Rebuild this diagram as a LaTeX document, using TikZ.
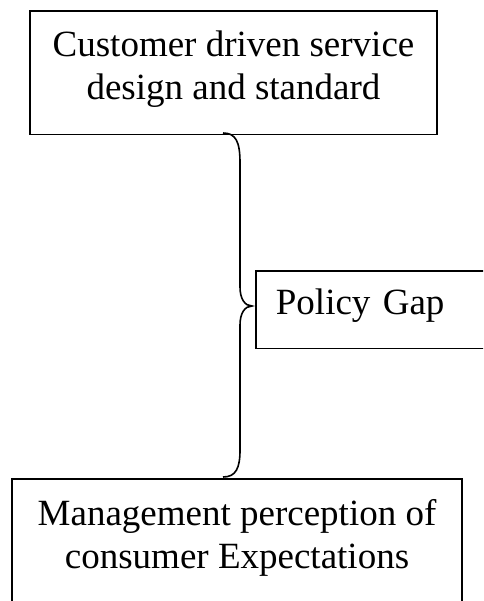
\documentclass[tikz,border=0pt]{standalone}
\usepackage{fontspec}
\setmainfont{Liberation Serif}
\tikzset{
  gapbox/.style={draw, line width=1.8pt, inner sep=0pt, font=\fontsize{37}{43}\selectfont},
  bracket/.style={line width=1.6pt}
}
\begin{document}
\begin{tikzpicture}[x=1pt,y=-1pt]
\useasboundingbox (0,0) rectangle (483,601);
\clip (0,0) rectangle (483,601);

\node[gapbox, anchor=north, align=center, minimum width=407, inner ysep=20] (design) at (233.5,10) {Customer driven service\\design and standard\rule[-15pt]{0pt}{0pt}};
\node[gapbox, anchor=north west, text width=240, inner xsep=20, inner ysep=17.5, text depth=17, align=left] (gap) at (255,270) {Policy Gap};
\node[gapbox, anchor=north, align=center, minimum width=450, inner ysep=21] (perception) at (237,478) {Management perception of\\consumer Expectations\rule[-60pt]{0pt}{0pt}};

\coordinate (btop) at (223,133);
\coordinate (tip) at (252,306);
\coordinate (bbot) at (223,477);
\draw[bracket] (btop) .. controls (236,133) and (240,142) .. (240,163) -- (240,287)
  .. controls (240,299) and (245,306) .. (tip)
  .. controls (245,306) and (240,313) .. (240,325) -- (240,450)
  .. controls (240,468) and (236,477) .. (bbot);
\end{tikzpicture}
\end{document}
